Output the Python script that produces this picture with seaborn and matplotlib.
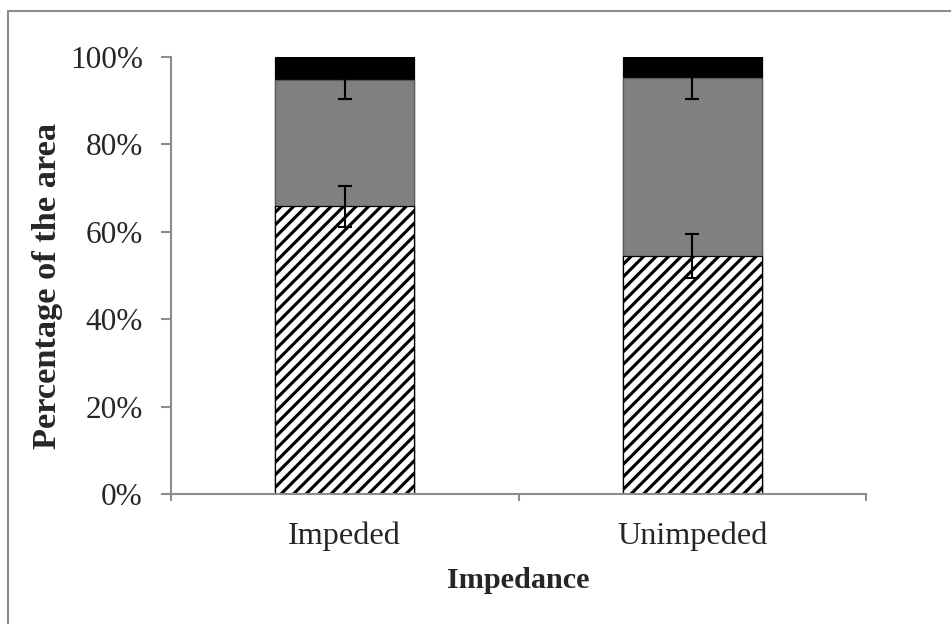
import matplotlib
matplotlib.use("Agg")
import matplotlib.pyplot as plt
import seaborn as sns
import pandas as pd
import numpy as np
from matplotlib.lines import Line2D
from matplotlib.ticker import FixedLocator

categories = ["Impeded", "Unimpeded"]
hatched_vals = [65.8, 54.5]
gray_vals = [29.0, 40.7]
black_vals = [5.2, 4.8]
hatched_err = [4.6, 5.0]
gray_err = [4.3, 4.8]
yticks = [0, 20, 40, 60, 80, 100]

sns.set_theme(style="white")
plt.rcParams['font.family'] = ['Liberation Serif', 'DejaVu Serif']
plt.rcParams['hatch.linewidth'] = 1.5
plt.rcParams['hatch.color'] = 'black'

DPI = 150
fig = plt.figure(figsize=(951 / DPI, 624 / DPI), dpi=DPI)
ax = fig.add_axes([171 / 951, 1 - 494 / 624, (866 - 171) / 951, (494 - 57) / 624])

h = np.array(hatched_vals)
g = np.array(gray_vals)
b = np.array(black_vals)
df = pd.DataFrame({"cat": categories, "top": h + g + b, "mid": h + g, "low": h})

sns.barplot(data=df, x="cat", y="top", color="black", width=0.4, ax=ax,
            saturation=1, edgecolor="black", linewidth=0.6)
sns.barplot(data=df, x="cat", y="mid", color="#808080", width=0.4, ax=ax,
            saturation=1, edgecolor="#5a5a5a", linewidth=0.6)
n_before = len(ax.patches)
sns.barplot(data=df, x="cat", y="low", color="white", width=0.4, ax=ax,
            saturation=1, edgecolor="black", linewidth=0.6)
for p in ax.patches[n_before:]:
    p.set_hatch("////")
    p.set_edgecolor("black")

xs = np.arange(len(categories))
ax.errorbar(xs, h + g, yerr=gray_err, fmt="none", ecolor="black",
            elinewidth=1.0, capsize=3.2, capthick=1.0, zorder=5)
ax.errorbar(xs, h, yerr=hatched_err, fmt="none", ecolor="black",
            elinewidth=1.0, capsize=3.2, capthick=1.0, zorder=5)

ax.set_xlim(-0.5, 1.5)
ax.set_ylim(0, 100)
ax.set_yticks(yticks)
ax.set_yticklabels([f"{v}%" for v in yticks])
ax.set_xticks(xs)
ax.set_xticklabels(categories)
ax.xaxis.set_minor_locator(FixedLocator([-0.5, 0.5, 1.5]))

for s in ["top", "right"]:
    ax.spines[s].set_visible(False)
for s in ["left", "bottom"]:
    ax.spines[s].set_color("#8c8c8c")
    ax.spines[s].set_linewidth(1.0)

ax.tick_params(axis="y", which="major", direction="out", length=5, width=1.0,
               color="#8c8c8c", labelsize=15, pad=8.5, left=True)
ax.tick_params(axis="x", which="major", length=0, labelsize=15.5, pad=13)
ax.tick_params(axis="x", which="minor", direction="out", length=3.5, width=1.0,
               color="#8c8c8c", bottom=True)

ax.set_xlabel("Impedance", fontsize=14.5, fontweight="bold", labelpad=8)
ax.set_ylabel("Percentage of the area", fontsize=16.5, fontweight="bold", labelpad=3.5)
ax.yaxis.label.set_y(0.477)
ax.grid(False)

fig.add_artist(Line2D([8 / 951, 8 / 951], [0, 1 - 11 / 624], transform=fig.transFigure,
                      color="#8c8c8c", linewidth=1.0))
fig.add_artist(Line2D([8 / 951, 1], [1 - 11 / 624, 1 - 11 / 624], transform=fig.transFigure,
                      color="#8c8c8c", linewidth=1.0))

fig.savefig("out.png", dpi=DPI, facecolor="white")
